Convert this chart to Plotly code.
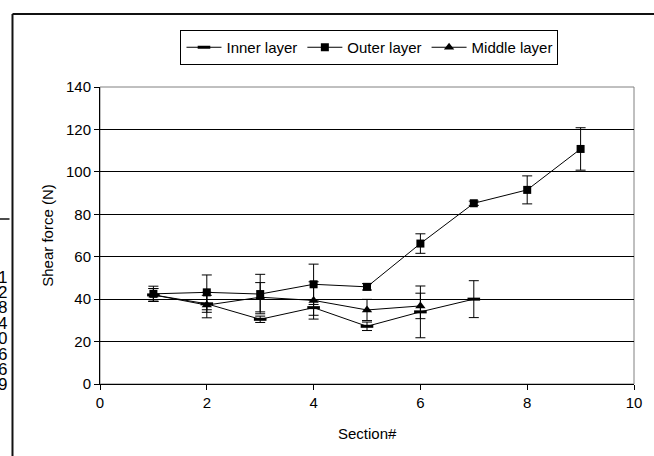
import plotly.graph_objects as go

# ---- data ----
x_outer = [1, 2, 3, 4, 5, 6, 7, 8, 9]
outer = [42.5, 43.2, 42.4, 47.0, 45.8, 66.2, 85.2, 91.5, 110.8]
outer_err = [3.6, 8.2, 9.3, 9.5, 1.5, 4.6, 1.0, 6.6, 10.0]

x_inner = [1, 2, 3, 4, 5, 6, 7]
inner = [42.0, 37.8, 30.5, 36.0, 27.2, 34.0, 40.0]
inner_err = [3.0, 4.0, 1.5, 3.6, 2.0, 12.2, 8.7]

x_middle = [1, 2, 3, 4, 5, 6]
middle = [42.0, 37.2, 40.9, 39.4, 34.9, 36.8]
middle_err = [3.0, 6.0, 6.9, 8.8, 5.0, 6.0]

x_ticks = [0, 2, 4, 6, 8, 10]
y_ticks = [0, 20, 40, 60, 80, 100, 120, 140]
side_digits = ["1", "2", "8", "4", "0", "6", "6", "9"]

FONT = "Liberation Sans, Arial, sans-serif"
W, H = 654, 456
L, R, T, B = 100, 17, 87, 72
PW, PH = W - L - R, H - T - B


def px(xp):
    return (xp - L) / PW


def py(yp):
    return (H - B - yp) / PH


def err(v):
    return dict(type="data", array=v, visible=True, color="black",
                thickness=1, width=5)


fig = go.Figure()
fig.add_trace(go.Scatter(
    x=x_inner, y=inner, name="Inner layer", mode="lines+markers",
    line=dict(color="black", width=1),
    marker=dict(symbol="line-ew", size=9, color="black",
                line=dict(color="black", width=3)),
    error_y=err(inner_err)))
fig.add_trace(go.Scatter(
    x=x_outer, y=outer, name="Outer layer", mode="lines+markers",
    line=dict(color="black", width=1),
    marker=dict(symbol="square", size=8, color="black"),
    error_y=err(outer_err)))
fig.add_trace(go.Scatter(
    x=x_middle, y=middle, name="Middle layer", mode="lines+markers",
    line=dict(color="black", width=1),
    marker=dict(symbol="triangle-up", size=9, color="black"),
    error_y=err(middle_err)))

shapes = [
    dict(type="rect", xref="paper", yref="paper", x0=0, x1=1, y0=0, y1=1,
         line=dict(color="#808080", width=1), layer="below"),
    dict(type="line", xref="paper", yref="paper", x0=px(12), x1=px(660),
         y0=py(14), y1=py(14), line=dict(color="#111", width=2)),
    dict(type="line", xref="paper", yref="paper", x0=px(12), x1=px(12),
         y0=py(14), y1=py(460), line=dict(color="#111", width=2)),
    dict(type="line", xref="paper", yref="paper", x0=px(-2), x1=px(9),
         y0=py(219), y1=py(219), line=dict(color="#111", width=1.5)),
]

annotations = [
    dict(text="Shear force (N)", textangle=-90, xref="paper", yref="paper",
         x=px(47), y=py(235.5), xanchor="center", yanchor="middle",
         showarrow=False, font=dict(family=FONT, size=15, color="black")),
    dict(text="Section#", xref="paper", yref="paper",
         x=px(368.5), y=py(433), xanchor="center", yanchor="middle",
         showarrow=False, font=dict(family=FONT, size=15, color="black")),
]
for i, d in enumerate(side_digits):
    annotations.append(dict(
        text=d, xref="paper", yref="paper", x=px(8), y=py(277 + i * 15.4),
        xanchor="right", yanchor="middle", showarrow=False,
        font=dict(family=FONT, size=17, color="black")))

fig.update_layout(
    width=W, height=H,
    margin=dict(l=L, r=R, t=T, b=B, pad=0),
    paper_bgcolor="white", plot_bgcolor="white",
    font=dict(family=FONT, size=15, color="black"),
    showlegend=True,
    legend=dict(orientation="h", x=px(371), y=py(30), xanchor="center",
                yanchor="top", bordercolor="black", borderwidth=1,
                font=dict(family=FONT, size=15, color="black"),
                itemwidth=35, tracegroupgap=0),
    xaxis=dict(range=[0, 10], tickvals=x_ticks, ticktext=[str(t) for t in x_ticks],
               showgrid=False, zeroline=False, showline=True, linecolor="black",
               linewidth=1, ticks="outside", ticklen=5, tickcolor="black",
               tickfont=dict(family=FONT, size=15)),
    yaxis=dict(range=[0, 140], tickvals=y_ticks, ticktext=[str(t) for t in y_ticks],
               showgrid=True, gridcolor="black", gridwidth=1, zeroline=False,
               showline=True, linecolor="black", linewidth=1,
               ticks="outside", ticklen=5, tickcolor="black",
               tickfont=dict(family=FONT, size=15)),
    shapes=shapes, annotations=annotations,
)

fig.write_html("out.html", config={"displayModeBar": False},
               post_script="document.body.style.margin='0px';")
